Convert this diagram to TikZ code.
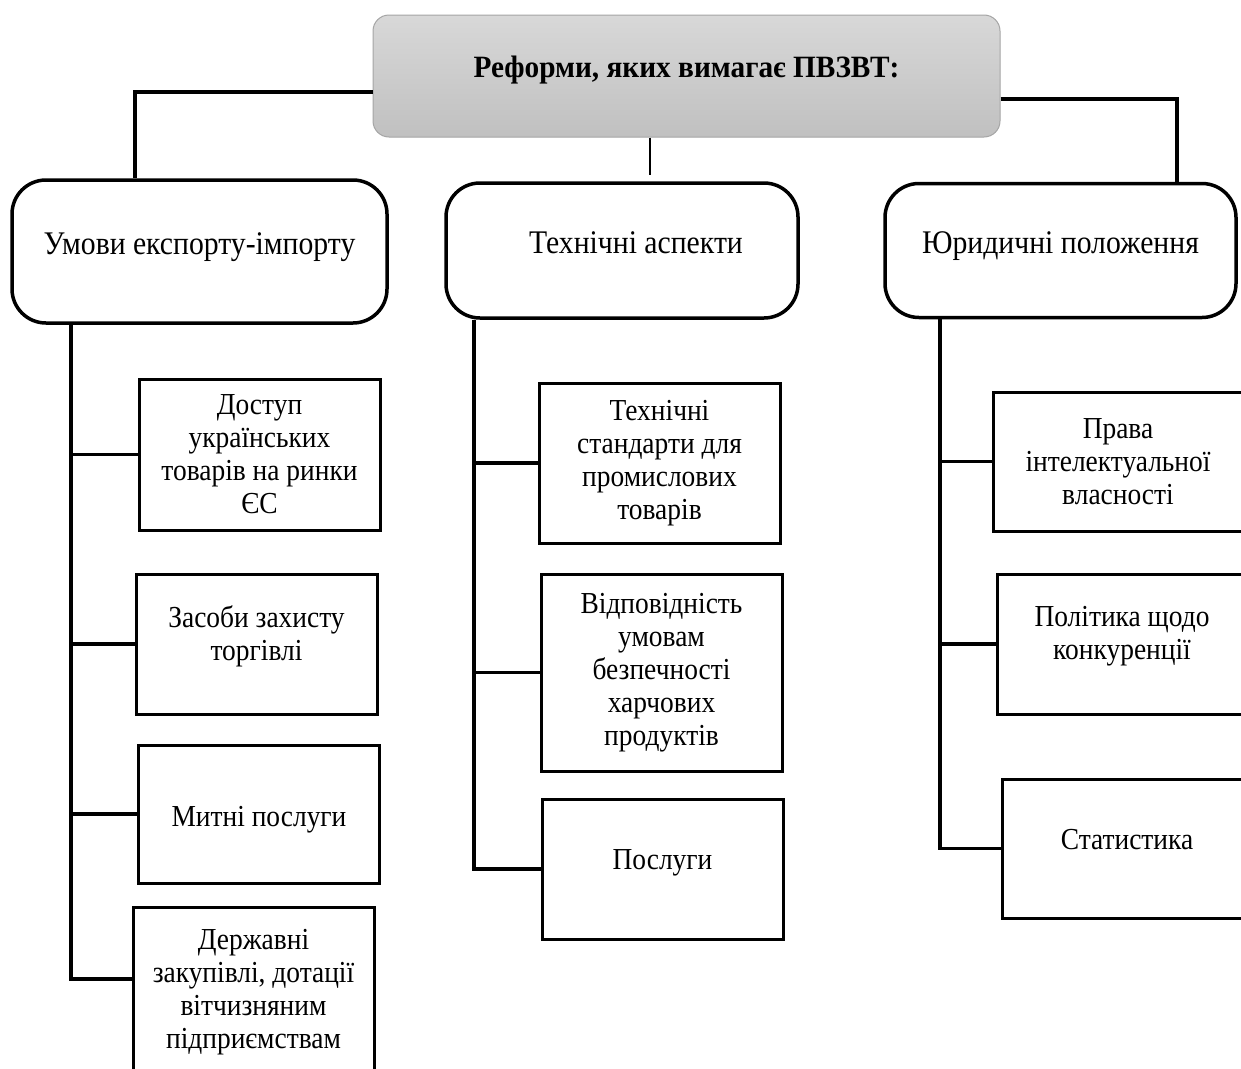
\documentclass[tikz,border=0pt]{standalone}
\usepackage{fontspec}
\setmainfont[FakeStretch=0.9]{Liberation Serif}
\newfontfamily\titlefont[FakeStretch=0.945]{Liberation Serif}
\definecolor{headtop}{RGB}{216,216,216}
\definecolor{headbot}{RGB}{192,192,192}
\definecolor{headrim}{RGB}{165,165,165}

\begin{document}
\begin{tikzpicture}[x=1pt,y=-1pt,
    every node/.style={align=center,font=\fontsize{30.5}{33}\selectfont},
    head/.style={draw=headrim,line width=1pt,rounded corners=16pt,
      top color=headtop,bottom color=headbot,
      minimum width=627pt,minimum height=122pt,text depth=18pt,
      font=\titlefont\bfseries\fontsize{31}{34}\selectfont},
    group/.style={draw,line width=3.5pt,rounded corners=34pt,text depth=16pt,
      font=\fontsize{33}{36}\selectfont},
    item/.style={draw,line width=3pt,minimum width=241pt},
    link/.style={line width=3.5pt}]
  \useasboundingbox (0,0) rectangle (1241,1068);
  \clip (0,0) rectangle (1241,1068);

  \node[head] (top) at (686.5,76) {Реформи, яких вимагає ПВЗВТ:};

  \node[group,minimum width=375pt,minimum height=143pt] (left) at (199.5,251.5) {Умови експорту-імпорту};
  \node[group,minimum width=352pt,minimum height=135pt] (mid) at (622,250.5) {\hspace*{28pt}Технічні аспекти};
  \node[group,minimum width=351pt,minimum height=134pt] (right) at (1060.5,250.5) {Юридичні положення};

  \begin{scope}[every node/.append style={item}]
    \node[minimum height=151pt] (l1) at (259.5,454.5) {Доступ\\українських\\товарів на ринки\\ЄС};
    \node[minimum height=140pt] (l2) at (256.5,644) {Засоби захисту\\торгівлі\\[-11pt]\mbox{}};
    \node[minimum height=138pt,text height=32pt] (l3) at (259,814) {Митні послуги};
    \node[minimum height=170pt,anchor=north] (l4) at (253.5,906) {Державні\\закупівлі, дотації\\вітчизняним\\підприємствам};

    \node[minimum height=160pt] (m1) at (659.5,463) {Технічні\\стандарти для\\промислових\\товарів};
    \node[minimum height=197pt] (m2) at (661.5,672.5) {Відповідність\\умовам\\безпечності\\харчових\\продуктів};
    \node[minimum height=140pt,text depth=18pt] (m3) at (662.5,869) {Послуги};

    \node[minimum width=250pt,minimum height=139pt] (r1) at (1118,461.5) {Права\\інтелектуальної\\власності};
    \node[minimum width=250pt,minimum height=140pt] (r2) at (1122,644) {Політика щодо\\конкуренції\\[-11pt]\mbox{}};
    \node[minimum width=250pt,minimum height=139pt,text depth=18pt] (r3) at (1127,848.5) {Статистика};
  \end{scope}

  % elbows and spines
  \coordinate (lk) at (135,92);
  \coordinate (mk) at (650,175);
  \coordinate (rk) at (1177,99);
  \coordinate (ls) at (71,979);
  \coordinate (ms) at (474,0);
  \coordinate (rs) at (940,0);

  \draw[link] (top.west |- lk) -| (lk |- left.north);
  \draw[link,line width=2pt] (mk |- top.south) -- (mk);
  \draw[link] (top.east |- rk) -| (rk |- right.north);

  \draw[link] (ls |- left.south) -- (ls) -- (ls -| l4.west);
  \draw[link] (l1.west -| ls) -- (l1.west);
  \draw[link] (l2.west -| ls) -- (l2.west);
  \draw[link] (l3.west -| ls) -- (l3.west);

  \draw[link] (ms |- mid.south) |- (m3.west);
  \draw[link] (m1.west -| ms) -- (m1.west);
  \draw[link] (m2.west -| ms) -- (m2.west);

  \draw[link] (rs |- right.south) |- (r3.west);
  \draw[link] (r1.west -| rs) -- (r1.west);
  \draw[link] (r2.west -| rs) -- (r2.west);
\end{tikzpicture}
\end{document}
